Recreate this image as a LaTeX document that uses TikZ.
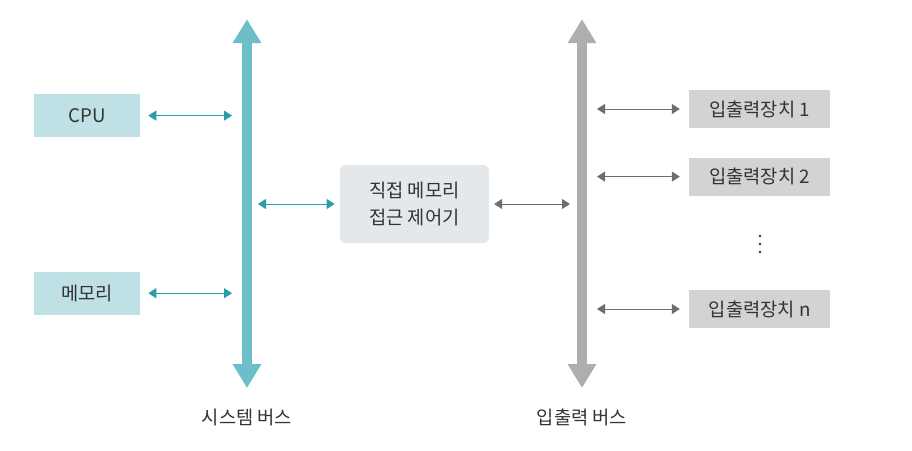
\documentclass[tikz,border=0pt]{standalone}
\usepackage{fontspec}
\setmainfont{Noto Sans CJK KR}
\usepackage{xcolor}
\usepackage{tikz}
\usetikzlibrary{arrows.meta}

\definecolor{sysblue}{HTML}{6CBFC9}
\definecolor{syslink}{HTML}{2B9DA7}
\definecolor{sysfill}{HTML}{BFE1E6}
\definecolor{iogray}{HTML}{AEAEB0}
\definecolor{iolink}{HTML}{6E6E70}
\definecolor{iofill}{HTML}{D2D3D4}
\definecolor{dmafill}{HTML}{E4E8EB}
\definecolor{textgray}{HTML}{333333}

\begin{document}
\begin{tikzpicture}[node distance=2cm, font=\fontsize{13.3}{19}\selectfont, text=textgray]
      \tikzstyle{unit} = [rectangle, minimum width=2.65cm, minimum height=1.075cm, text centered, fill=sysfill]
      \tikzstyle{device} = [rectangle, minimum width=3.525cm, minimum height=0.95cm, text centered, fill=iofill]
      \tikzstyle{controller} = [rectangle, rounded corners=0.15cm, minimum width=3.725cm, minimum height=1.95cm, align=center, fill=dmafill]
      \tikzstyle{bus} = [line width=0.25cm, {Triangle[width=0.68cm,length=0.6cm]}-{Triangle[width=0.68cm,length=0.6cm]}]
      \tikzstyle{link} = [line width=0.7pt, {Triangle[width=0.25cm,length=0.2cm]}-{Triangle[width=0.25cm,length=0.2cm]}]

      \useasboundingbox (0,0) rectangle (22.8,-11.25);

      \coordinate (systop) at (6.175,-0.48);
      \coordinate (sysbot) at (6.175,-9.7);
      \coordinate (iotop) at (14.55,-0.48);
      \coordinate (iobot) at (14.55,-9.7);

      \node (cpu) [unit] at (2.175,-2.89) {CPU};
      \node (memory) [unit, below of=cpu, node distance=4.44cm] {메모리};
      \node (dma) [controller] at (10.36,-5.1) {직접 메모리\\접근 제어기};
      \node (dev1) [device] at (18.99,-2.725) {입출력장치 1};
      \node (dev2) [device, below of=dev1, node distance=1.69cm] {입출력장치 2};
      \node (devn) [device, below of=dev2, node distance=3.31cm] {입출력장치 n};
      \node (syslabel) at (6.175,-10.425) {시스템 버스};
      \node (iolabel) at (14.55,-10.425) {입출력 버스};

      \fill [textgray] (19,-5.9) circle (0.035) (19,-6.1) circle (0.035) (19,-6.3) circle (0.035);

      \draw [bus, sysblue] (systop) -- (sysbot);
      \draw [bus, iogray] (iotop) -- (iobot);

      \draw [link, syslink, shorten <=0.2cm, shorten >=0.375cm] (cpu) -- (cpu -| systop);
      \draw [link, syslink, shorten <=0.2cm, shorten >=0.375cm] (memory) -- (memory -| systop);
      \draw [link, syslink, shorten <=0.275cm, shorten >=0.125cm] (dma -| systop) -- (dma);
      \draw [link, iolink, shorten <=0.125cm, shorten >=0.3cm] (dma) -- (dma -| iotop);
      \draw [link, iolink, shorten <=0.375cm, shorten >=0.225cm] (dev1 -| iotop) -- (dev1);
      \draw [link, iolink, shorten <=0.375cm, shorten >=0.225cm] (dev2 -| iotop) -- (dev2);
      \draw [link, iolink, shorten <=0.375cm, shorten >=0.225cm] (devn -| iotop) -- (devn);
    \end{tikzpicture}
\end{document}
